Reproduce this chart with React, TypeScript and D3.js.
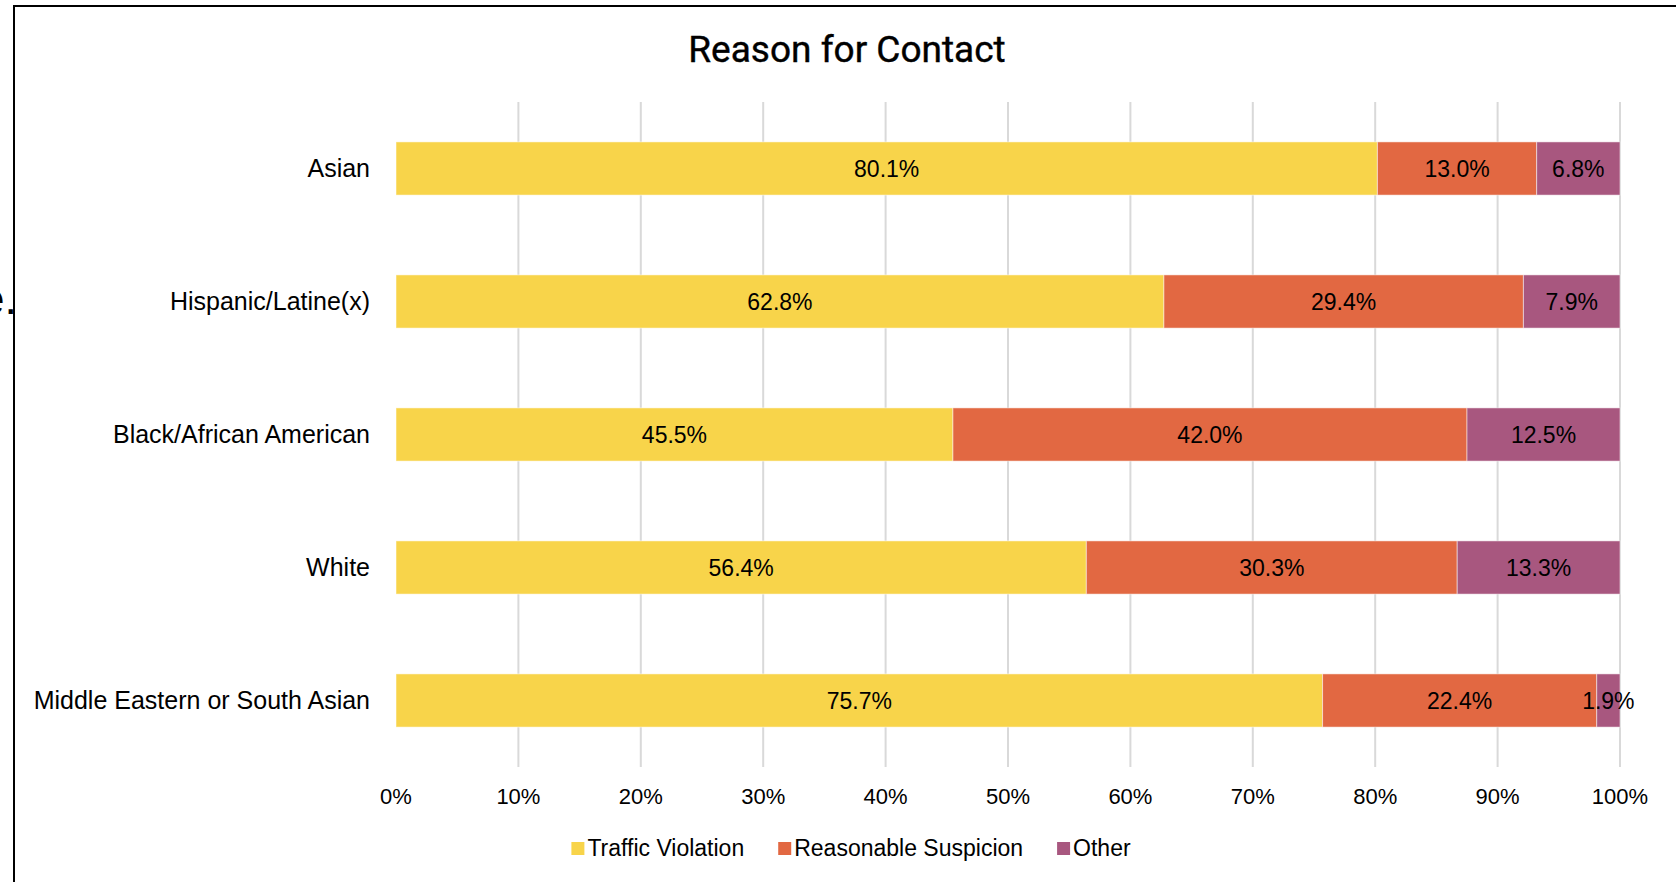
import React from "react";
import * as d3 from "d3";

const categories = [
  "Asian",
  "Hispanic/Latine(x)",
  "Black/African American",
  "White",
  "Middle Eastern or South Asian",
];
const seriesNames = ["Traffic Violation", "Reasonable Suspicion", "Other"];
const trafficViolation = [80.1, 62.8, 45.5, 56.4, 75.7];
const reasonableSuspicion = [13.0, 29.4, 42.0, 30.3, 22.4];
const other = [6.8, 7.9, 12.5, 13.3, 1.9];
const tickValues = [0, 0.1, 0.2, 0.3, 0.4, 0.5, 0.6, 0.7, 0.8, 0.9, 1.0];
const colors = ["#F8D44A", "#E26842", "#A8577F"];

const W = 1676;
const H = 882;
const FONT = "'Liberation Sans', Arial, sans-serif";

function measure(text: string, font: string): number {
  const c = document.createElement("canvas");
  const ctx = c.getContext("2d");
  if (!ctx) return text.length * 11;
  ctx.font = font;
  return ctx.measureText(text).width;
}

export default function App() {
  const rows = categories.map((c, i) => ({
    cat: c,
    "Traffic Violation": trafficViolation[i],
    "Reasonable Suspicion": reasonableSuspicion[i],
    Other: other[i],
  }));
  const stack = d3
    .stack<any>()
    .keys(seriesNames)
    .offset(d3.stackOffsetExpand);
  const stacked = stack(rows);
  const raw = [trafficViolation, reasonableSuspicion, other];

  const x = d3.scaleLinear().domain([0, 1]).range([396, 1620]);
  const y = d3
    .scaleBand<string>()
    .domain(categories)
    .range([102, 767])
    .paddingInner(0.6)
    .paddingOuter(0.3);

  const legendFont = `23px ${FONT}`;
  const sq = 13;
  const gapText = 3;
  const gapItem = 34;
  const widths = seriesNames.map((n) => measure(n, legendFont));
  const total =
    widths.reduce((a, b) => a + b, 0) +
    seriesNames.length * (sq + gapText) +
    gapItem * (seriesNames.length - 1);
  let lx = 851 - total / 2;
  const legendItems = seriesNames.map((n, i) => {
    const item = { name: n, x: lx, color: colors[i] };
    lx += sq + gapText + widths[i] + gapItem;
    return item;
  });

  return (
    <svg
      width={W}
      height={H}
      style={{ position: "absolute", left: 0, top: 0, background: "#fff" }}
      fontFamily={FONT}
    >
      <rect x={0} y={0} width={W} height={H} fill="#fff" />
      {/* clipped stray text at left, as in the reference */}
      <text x={17} y={314} fontSize={45} textAnchor="end" fill="#000">
        e.
      </text>
      <rect x={14} y={6} width={W} height={H} fill="#fff" stroke="#000" strokeWidth={2} />

      <text
        x={847}
        y={62}
        textAnchor="middle"
        fontSize={37}
        fontFamily="Roboto, 'Liberation Sans', sans-serif"
        fill="#000"
        stroke="#000"
        strokeWidth={0.4}
      >
        Reason for Contact
      </text>

      {/* gridlines */}
      {tickValues
        .filter((t) => t > 0)
        .map((t) => (
          <line
            key={t}
            x1={x(t)}
            x2={x(t)}
            y1={102}
            y2={767}
            stroke="#D9D9D9"
            strokeWidth={2}
          />
        ))}

      {/* bars */}
      {stacked.map((s, si) => (
        <g key={s.key}>
          {s.map((d, ci) => (
            <rect
              key={ci}
              x={x(d[0])}
              y={y(categories[ci])}
              width={x(d[1]) - x(d[0])}
              height={y.bandwidth()}
              fill={colors[si]}
              stroke="#fff"
              strokeOpacity={0.5}
              strokeWidth={1}
            />
          ))}
        </g>
      ))}

      {/* data labels */}
      {stacked.map((s, si) => (
        <g key={"l" + s.key}>
          {s.map((d, ci) => (
            <text
              key={ci}
              x={(x(d[0]) + x(d[1])) / 2}
              y={(y(categories[ci]) as number) + y.bandwidth() / 2}
              dy="0.35em"
              textAnchor="middle"
              fontSize={23}
              fill="#000"
            >
              {raw[si][ci].toFixed(1) + "%"}
            </text>
          ))}
        </g>
      ))}

      {/* category labels */}
      {categories.map((c) => (
        <text
          key={c}
          x={370}
          y={(y(c) as number) + y.bandwidth() / 2}
          dy="0.35em"
          textAnchor="end"
          fontSize={25}
          fill="#000"
        >
          {c}
        </text>
      ))}

      {/* x tick labels */}
      {tickValues.map((t) => (
        <text
          key={"t" + t}
          x={x(t)}
          y={804}
          textAnchor="middle"
          fontSize={22}
          fill="#000"
        >
          {d3.format(".0%")(t)}
        </text>
      ))}

      {/* legend */}
      {legendItems.map((it) => (
        <g key={it.name}>
          <rect x={it.x} y={842} width={sq} height={sq} fill={it.color} />
          <text x={it.x + sq + gapText} y={856} fontSize={23} fill="#000">
            {it.name}
          </text>
        </g>
      ))}
    </svg>
  );
}
